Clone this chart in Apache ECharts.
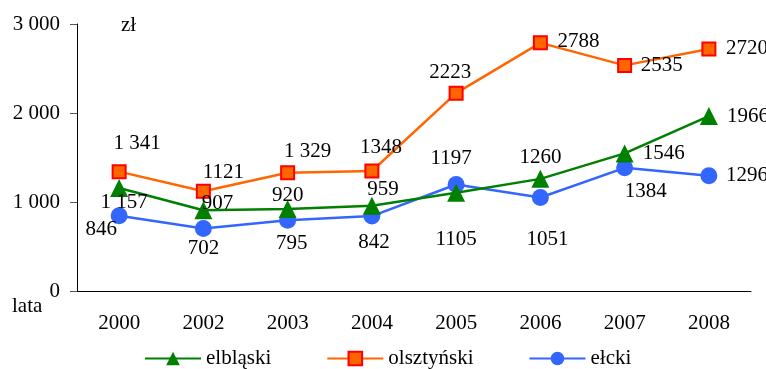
<!DOCTYPE html>
<html>
<head>
<meta charset="utf-8">
<script src="https://cdn.jsdelivr.net/npm/echarts@6/dist/echarts.min.js"></script>
<style>
html,body{margin:0;padding:0;background:#fff;}
#chart{width:766px;height:369px;}
</style>
</head>
<body>
<div id="chart"></div>
<script>
// Years on the category axis
const years = ['2000', '2002', '2003', '2004', '2005', '2006', '2007', '2008'];

// Average values per subregion (zł)
const elblaski = [1157, 907, 920, 959, 1105, 1260, 1546, 1966];
const olsztynski = [1341, 1121, 1329, 1348, 2223, 2788, 2535, 2720];
const elcki = [846, 702, 795, 842, 1197, 1051, 1384, 1296];

// Value labels as printed next to each point
const elblaskiLabels = ['1 157', '907', '920', '959', '1105', '1260', '1546', '1966'];
const olsztynskiLabels = ['1 341', '1121', '1 329', '1348', '2223', '2788', '2535', '2720'];
const elckiLabels = ['846', '702', '795', '842', '1197', '1051', '1384', '1296'];

// Label offsets from point centre [dx, dy]
const elblaskiOffsets = [[5, 14], [14, -7], [0, -14], [11, -16], [0, 47], [0, -21], [39, 0], [39, 0]];
const olsztynskiOffsets = [[18, -28], [20, -19], [20, -21], [9, -24], [-6, -21], [38, -1], [37, 0], [38, 0]];
const elckiOffsets = [[-18, 14], [0, 20], [4, 23], [2, 26], [-5, -26], [7, 42], [21, 24], [38, 0]];

const FONT = 'Liberation Serif, Times New Roman, serif';
const FS = 21;

function buildData(values, labels, offsets) {
  return values.map((v, i) => ({
    value: v,
    label: {
      show: true,
      position: 'inside',
      offset: offsets[i],
      formatter: labels[i],
      color: '#000',
      fontFamily: FONT,
      fontSize: FS,
      align: 'center',
      verticalAlign: 'middle'
    }
  }));
}

const chart = echarts.init(document.getElementById('chart'));
chart.setOption({
  animation: false,
  backgroundColor: '#fff',
  textStyle: { fontFamily: FONT },
  grid: { left: 77, right: 15, top: 24, bottom: 78 },
  legend: {
    top: 343,
    left: 139,
    itemWidth: 56,
    itemHeight: 17,
    itemGap: 55,
    textStyle: { fontFamily: FONT, fontSize: FS, color: '#000' },
    data: ['elbląski', 'olsztyński', 'ełcki']
  },
  xAxis: {
    type: 'category',
    data: years,
    boundaryGap: true,
    axisLine: { lineStyle: { color: '#000', width: 1 } },
    axisTick: { length: 7, lineStyle: { color: '#000' } },
    axisLabel: { color: '#000', fontFamily: FONT, fontSize: FS, margin: 22 }
  },
  yAxis: {
    type: 'value',
    min: 0,
    max: 3000,
    interval: 1000,
    splitLine: { show: false },
    axisLine: { show: true, lineStyle: { color: '#000', width: 1 } },
    axisTick: { show: true, length: 7, lineStyle: { color: '#555' } },
    axisLabel: {
      color: '#000', fontFamily: FONT, fontSize: FS, margin: 17,
      formatter: v => v >= 1000 ? String(v).replace(/(\d)(\d{3})$/, '$1 $2') : String(v)
    }
  },
  graphic: [
    { type: 'text', left: 121, top: 15, style: { text: 'zł', font: FS + 'px ' + FONT, fill: '#000' } },
    { type: 'text', left: 12, top: 296, style: { text: 'lata', font: FS + 'px ' + FONT, fill: '#000' } }
  ],
  series: [
    {
      name: 'elbląski',
      type: 'line',
      data: buildData(elblaski, elblaskiLabels, elblaskiOffsets),
      symbol: 'triangle',
      symbolSize: 18,
      lineStyle: { color: '#008000', width: 2.5 },
      itemStyle: { color: '#008000' },
      z: 3
    },
    {
      name: 'olsztyński',
      type: 'line',
      data: buildData(olsztynski, olsztynskiLabels, olsztynskiOffsets),
      symbol: 'rect',
      symbolSize: 13,
      lineStyle: { color: '#ff6600', width: 2.5 },
      itemStyle: { color: '#ff6600', borderColor: '#ff0000', borderWidth: 2 },
      z: 2
    },
    {
      name: 'ełcki',
      type: 'line',
      data: buildData(elcki, elckiLabels, elckiOffsets),
      symbol: 'circle',
      symbolSize: 17,
      lineStyle: { color: '#3366ff', width: 2.5 },
      itemStyle: { color: '#3366ff' },
      z: 1
    }
  ]
});
</script>
</body>
</html>
